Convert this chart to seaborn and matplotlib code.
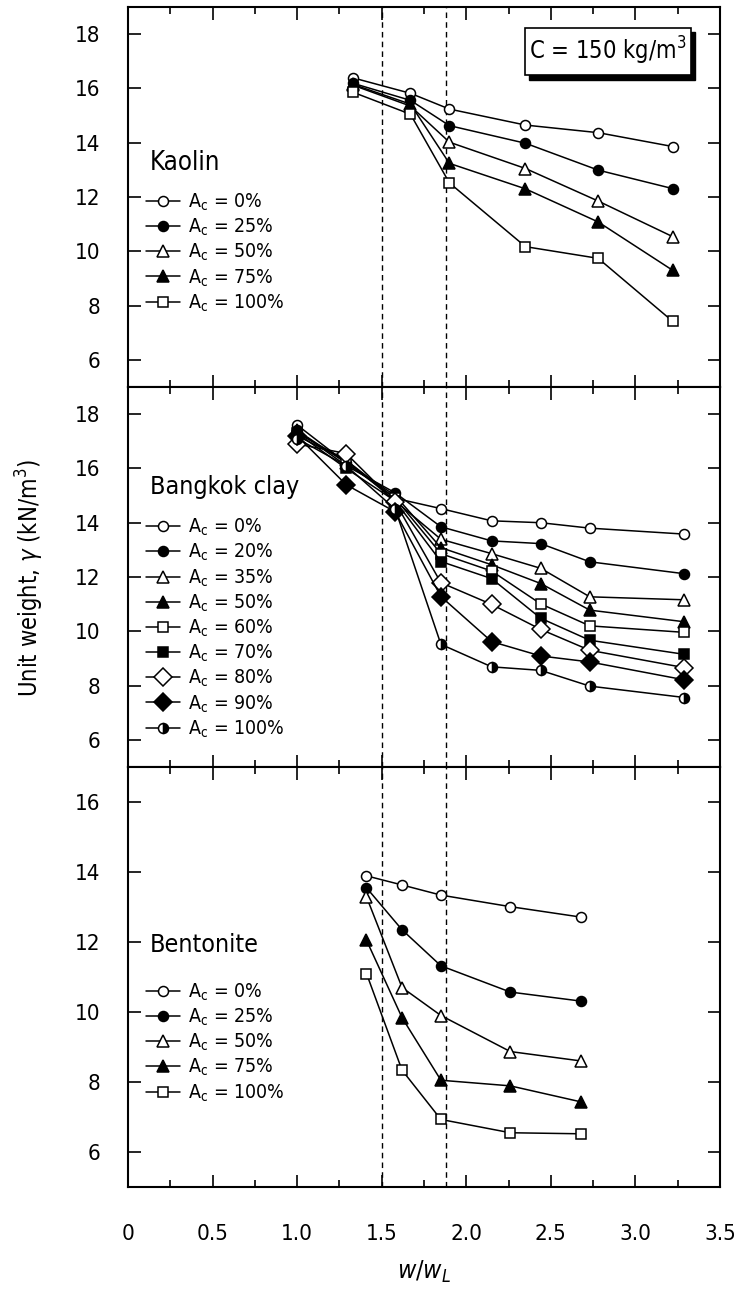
import numpy as np
import pandas as pd
import matplotlib
matplotlib.use("Agg")
import matplotlib.pyplot as plt
import seaborn as sns
from matplotlib.ticker import MultipleLocator
from matplotlib.patches import Rectangle

# ---------------- data ----------------
kaolin_x = [1.33, 1.67, 1.90, 2.35, 2.78, 3.22]
kaolin_ac = ["0%", "25%", "50%", "75%", "100%"]
kaolin_0 = [16.39, 15.82, 15.24, 14.65, 14.37, 13.86]
kaolin_25 = [16.19, 15.56, 14.63, 13.98, 12.99, 12.31]
kaolin_50 = [16.12, 15.35, 14.02, 13.05, 11.85, 10.54]
kaolin_75 = [16.15, 15.42, 13.24, 12.30, 11.08, 9.30]
kaolin_100 = [15.86, 15.05, 12.52, 10.17, 9.74, 7.42]

bkk_x = [1.00, 1.29, 1.58, 1.85, 2.15, 2.44, 2.73, 3.29]
bkk_ac = ["0%", "20%", "35%", "50%", "60%", "70%", "80%", "90%", "100%"]
bkk_0 = [17.6, 16.2, 14.9, 14.52, 14.07, 14.00, 13.80, 13.58]
bkk_20 = [17.4, 16.1, 15.1, 13.85, 13.33, 13.23, 12.56, 12.12]
bkk_35 = [17.3, 16.3, 14.8, 13.39, 12.86, 12.32, 11.27, 11.16]
bkk_50 = [17.4, 16.2, 15.0, 13.08, 12.45, 11.76, 10.78, 10.35]
bkk_60 = [17.2, 16.3, 14.9, 12.86, 12.22, 11.01, 10.20, 9.96]
bkk_70 = [17.3, 16.0, 14.8, 12.57, 11.94, 10.48, 9.67, 9.15]
bkk_80 = [16.9, 16.55, 14.75, 11.79, 10.99, 10.07, 9.30, 8.66]
bkk_90 = [17.2, 15.4, 14.4, 11.28, 9.62, 9.09, 8.87, 8.21]
bkk_100 = [17.1, 16.1, 14.5, 9.52, 8.69, 8.56, 7.98, 7.56]

bent_x = [1.41, 1.62, 1.85, 2.26, 2.68]
bent_ac = ["0%", "25%", "50%", "75%", "100%"]
bent_0 = [13.89, 13.63, 13.34, 13.01, 12.71]
bent_25 = [13.55, 12.35, 11.32, 10.57, 10.31]
bent_50 = [13.29, 10.70, 9.90, 8.87, 8.60]
bent_75 = [12.05, 9.84, 8.05, 7.89, 7.43]
bent_100 = [11.10, 8.34, 6.93, 6.55, 6.52]

vlines_x = [1.5, 1.88]
x_ticks = [0, 0.5, 1.0, 1.5, 2.0, 2.5, 3.0, 3.5]
x_ticklabels = ["0", "0.5", "1.0", "1.5", "2.0", "2.5", "3.0", "3.5"]

# ---------------- style ----------------
sns.set_theme(style="ticks")
plt.rcParams["font.family"] = ["DejaVu Sans"]
plt.rcParams["font.stretch"] = "condensed"
plt.rcParams["mathtext.fontset"] = "custom"
plt.rcParams["mathtext.rm"] = "DejaVu Sans:stretch=condensed"
plt.rcParams["mathtext.it"] = "DejaVu Sans:style=italic:stretch=condensed"
plt.rcParams["mathtext.bf"] = "DejaVu Sans:weight=bold:stretch=condensed"
plt.rcParams["axes.linewidth"] = 1.5
for k in ["text.color", "axes.labelcolor", "xtick.color", "ytick.color",
          "axes.edgecolor"]:
    plt.rcParams[k] = "black"

W, H = 735, 1291
fig = plt.figure(figsize=(W / 100, H / 100), dpi=100)
fig.patch.set_facecolor("white")

def px_axes(top, bottom):
    return [128 / W, 1 - bottom / H, (720 - 128) / W, (bottom - top) / H]

ax1 = fig.add_axes(px_axes(7, 387))
ax2 = fig.add_axes(px_axes(387, 767))
ax3 = fig.add_axes(px_axes(767, 1187))

# marker styles: (marker, facecolor, size, fillstyle)
OC = ("o", "white", 7.2, "full")
FC = ("o", "black", 7.2, "full")
OT = ("^", "white", 8.8, "full")
FT = ("^", "black", 8.8, "full")
OS = ("s", "white", 7.0, "full")
FS = ("s", "black", 7.0, "full")
OD = ("D", "white", 9.5, "full")
FD = ("D", "black", 9.5, "full")
HC = ("o", "black", 7.2, "right")

def draw_panel(ax, x, series, labels, styles):
    handles = []
    for ys, lab, st in zip(series, labels, styles):
        df = pd.DataFrame({"x": x, "y": ys})
        m, fcol, ms, fs = st
        sns.lineplot(data=df, x="x", y="y", ax=ax, color="black", lw=1.1,
                     marker=m, markersize=ms, markerfacecolor=fcol,
                     markeredgecolor="black", markeredgewidth=1.1,
                     fillstyle=fs, markerfacecoloralt="white",
                     estimator=None, legend=False)
        line = ax.lines[-1]
        line.set_label("A$_\\mathrm{c}$ = " + lab)
        handles.append(line)
    for vx in vlines_x:
        ax.axvline(vx, color="black", lw=1.0, ls=(0, (4, 3)), zorder=0)
    return handles

h1 = draw_panel(ax1, kaolin_x,
                [kaolin_0, kaolin_25, kaolin_50, kaolin_75, kaolin_100],
                kaolin_ac, [OC, FC, OT, FT, OS])
h2 = draw_panel(ax2, bkk_x,
                [bkk_0, bkk_20, bkk_35, bkk_50, bkk_60, bkk_70, bkk_80, bkk_90, bkk_100],
                bkk_ac, [OC, FC, OT, FT, OS, FS, OD, FD, HC])
h3 = draw_panel(ax3, bent_x,
                [bent_0, bent_25, bent_50, bent_75, bent_100],
                bent_ac, [OC, FC, OT, FT, OS])

for ax, ylim, yt in [(ax1, (5, 19), [6, 8, 10, 12, 14, 16, 18]),
                     (ax2, (5, 19), [6, 8, 10, 12, 14, 16, 18]),
                     (ax3, (5, 17), [6, 8, 10, 12, 14, 16])]:
    ax.set_xlim(0, 3.5)
    ax.set_ylim(*ylim)
    ax.set_yticks(yt)
    ax.set_yticklabels([str(v) for v in yt])
    ax.set_xticks(x_ticks)
    ax.xaxis.set_minor_locator(MultipleLocator(0.25))
    ax.tick_params(axis="both", which="major", direction="in", top=True,
                   right=True, length=9, width=1.2, labelsize=16, colors="black")
    ax.tick_params(axis="x", which="minor", direction="in", top=True,
                   bottom=True, length=5, width=1.2, colors="black")
    ax.tick_params(axis="y", pad=20)
    ax.tick_params(axis="x", pad=27)
    ax.set_xlabel("")
    ax.set_ylabel("")
    for s in ax.spines.values():
        s.set_linewidth(1.5)
        s.set_color("black")

ax1.set_xticklabels([])
ax2.set_xticklabels([])
ax3.set_xticklabels(x_ticklabels)

# panel titles
ax1.text(0.13, 13.25, "Kaolin", fontsize=18.5, va="center", ha="left")
ax2.text(0.13, 15.3, "Bangkok clay", fontsize=18, va="center", ha="left")
ax3.text(0.13, 11.9, "Bentonite", fontsize=18, va="center", ha="left")

leg_kw = dict(frameon=False, fontsize=14, handlelength=1.75, handletextpad=0.4,
              labelspacing=0.2, borderaxespad=0, borderpad=0, loc="upper left")
ax1.legend(handles=h1, bbox_to_anchor=(0.03, 0.514), **leg_kw)
ax2.legend(handles=h2, bbox_to_anchor=(0.03, 0.658), **leg_kw)
ax3.legend(handles=h3, bbox_to_anchor=(0.03, 0.489), **leg_kw)

# concentration box with shadow
bx0, bx1, by0, by1 = 0.671, 0.951, 0.821, 0.946
ax1.add_patch(Rectangle((bx0 + 0.006, by0 - 0.012), bx1 - bx0, by1 - by0,
                        transform=ax1.transAxes, facecolor="black",
                        edgecolor="black", zorder=5))
ax1.add_patch(Rectangle((bx0, by0), bx1 - bx0, by1 - by0,
                        transform=ax1.transAxes, facecolor="white",
                        edgecolor="black", lw=1.2, zorder=6))
ax1.text((bx0 + bx1) / 2, (by0 + by1) / 2, "C = 150 kg/m$^{3}$",
         transform=ax1.transAxes, ha="center", va="center", fontsize=17, zorder=7)

fig.text(30 / W, 1 - 578 / H, "Unit weight, $\\gamma$ (kN/m$^3$)", rotation=90,
         ha="center", va="center", fontsize=17)
fig.text(424 / W, 1 - 1272 / H, "$w/w_L$", ha="center", va="center", fontsize=18)

fig.savefig("out.png", dpi=100, facecolor="white")
